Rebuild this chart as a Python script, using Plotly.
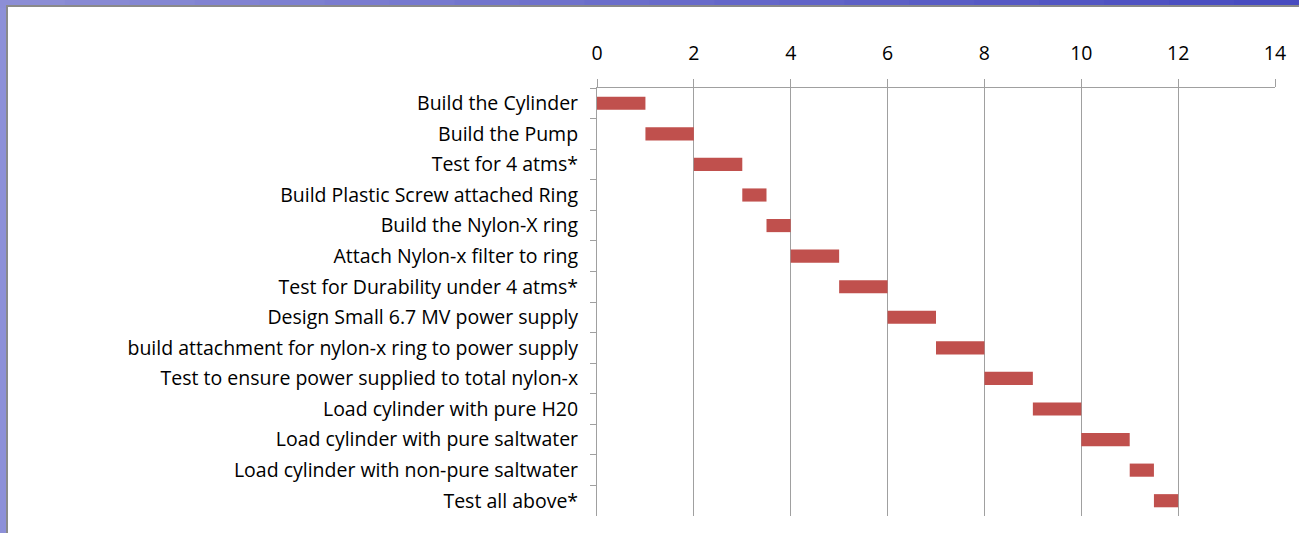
import plotly.graph_objects as go

tasks = [
    "Build the Cylinder",
    "Build the Pump",
    "Test for 4 atms*",
    "Build Plastic Screw attached Ring",
    "Build the Nylon-X ring",
    "Attach Nylon-x filter to ring",
    "Test for Durability under 4 atms*",
    "Design Small 6.7 MV power supply",
    "build attachment for nylon-x ring to power supply",
    "Test to ensure power supplied to total nylon-x",
    "Load cylinder with pure H20",
    "Load cylinder with pure saltwater",
    "Load cylinder with non-pure saltwater",
    "Test all above*",
]
start = [0, 1, 2, 3, 3.5, 4, 5, 6, 7, 8, 9, 10, 11, 11.5]
duration = [1, 1, 1, 0.5, 0.5, 1, 1, 1, 1, 1, 1, 1, 0.5, 0.5]
x_ticks = [0, 2, 4, 6, 8, 10, 12, 14]

W, H = 1299, 533
L, R, T, B = 597, 24, 88, 17
pw, ph = W - L - R, H - T - B

def px_x(p):
    return (p - L) / pw

def px_y(p):
    return (H - B - p) / ph

fig = go.Figure()
fig.add_trace(go.Bar(
    y=tasks, x=duration, base=start, orientation="h",
    marker=dict(color="#c0504d", line=dict(width=0)),
    width=0.43, showlegend=False,
))

shapes = []
# top strip gradient (light purple -> dark blue)
n = 20
for i in range(n):
    t = i / (n - 1)
    r = int(140 + (72 - 140) * t)
    g = int(142 + (76 - 142) * t)
    b = int(214 + (192 - 214) * t)
    shapes.append(dict(type="rect", xref="paper", yref="paper", layer="below",
                       x0=px_x(i * W / n), x1=px_x((i + 1) * W / n + 1),
                       y0=px_y(8), y1=px_y(-2),
                       fillcolor=f"rgb({r},{g},{b})", line=dict(width=0)))
# white panel with gray border
shapes.append(dict(type="rect", xref="paper", yref="paper", layer="below",
                   x0=px_x(7), x1=px_x(W + 10), y0=px_y(H + 10), y1=px_y(6),
                   fillcolor="white", line=dict(color="#8a8a8a", width=2)))

fig.update_layout(
    width=W, height=H,
    margin=dict(l=L, r=R, t=T, b=B, pad=0),
    paper_bgcolor="#8d90d8",
    plot_bgcolor="white",
    font=dict(family="Open Sans, sans-serif", size=19.5, color="black"),
    shapes=shapes,
    bargap=0.57,
    xaxis=dict(
        side="top", range=[0, 14], tickvals=x_ticks,
        showgrid=True, gridcolor="#a0a0a0", gridwidth=1,
        showline=True, linecolor="#a0a0a0", linewidth=1,
        ticks="outside", ticklen=8, tickcolor="#a0a0a0",
        ticklabelstandoff=11, zeroline=False, fixedrange=True,
    ),
    yaxis=dict(
        type="category", autorange="reversed",
        showline=True, linecolor="#a0a0a0", linewidth=1,
        ticks="outside", ticklen=6, tickcolor="#a0a0a0",
        tickson="boundaries", showgrid=False,
        ticklabelstandoff=14, fixedrange=True,
    ),
)

fig.write_html(
    "out.html",
    config={"displayModeBar": False},
    post_script="document.body.style.margin='0';document.body.style.overflow='hidden';",
)
